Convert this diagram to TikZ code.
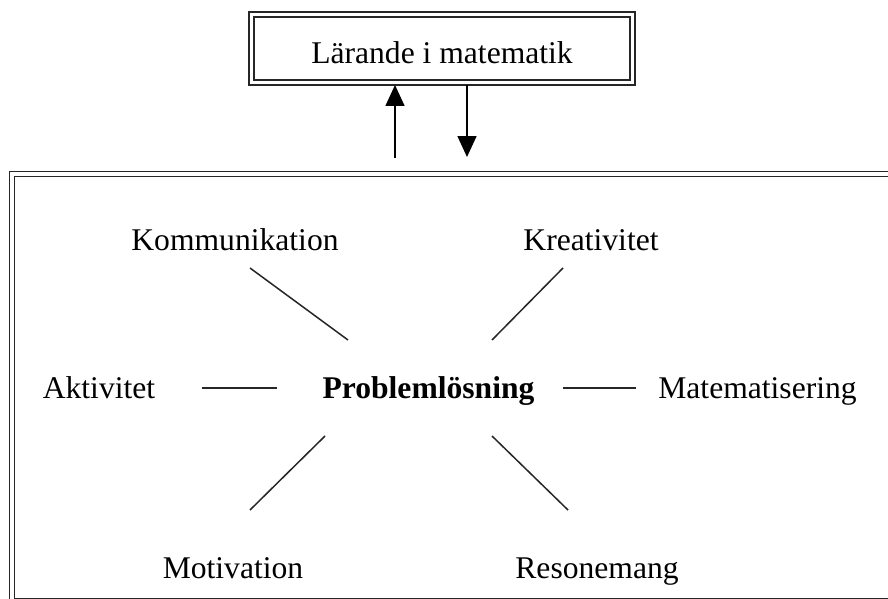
\documentclass[tikz,border=0pt]{standalone}
\usepackage{fontspec}
\setmainfont{Liberation Serif}
\usetikzlibrary{arrows.meta}
\tikzset{
  lbl/.style={anchor=base, inner sep=0pt, font=\fontsize{31.6}{36}\selectfont},
  spoke/.style={line width=1.5pt, black!85},
  arr/.style={line width=1.6pt, -{Triangle[length=21pt,width=19pt]}},
  dbl/.style={draw=black!85, line width=1.8pt, double=white, double distance=3.2pt}
}
\begin{document}
\begin{tikzpicture}[x=1pt,y=-1pt]
\useasboundingbox (0,0) rectangle (888,599);
\clip (0,0) rectangle (888,599);
\fill[white] (0,0) rectangle (888,599);
% top box
\node[dbl, minimum width=381pt, minimum height=68pt, inner sep=0pt,
      text height=29.5pt, text depth=0pt,
      font=\fontsize{31.6}{36}\selectfont] (top) at (442,48.5) {Lärande i matematik};
% big frame
\draw[dbl] (12,174) rectangle (903,601);
% arrows
\coordinate (u1) at (395,158);
\coordinate (u2) at (395,85);
\coordinate (d1) at (467,85);
\coordinate (d2) at (467,157);
\draw[arr] (u1) -- (u2);
\draw[arr] (d1) -- (d2);
% labels
\node[lbl, font=\fontsize{31.6}{36}\selectfont\bfseries] (p) at (428.5,398) {Problemlösning};
\node[lbl] (akt) at (99,398) {Aktivitet};
\node[lbl] (mat) at (757.5,398) {Matematisering};
\node[lbl] (kom) at (235,250) {Kommunikation};
\node[lbl] (kre) at (591,250) {Kreativitet};
\node[lbl] (mot) at (233,578) {Motivation};
\node[lbl] (res) at (597,578) {Resonemang};
% spokes
\coordinate (a1) at (202,388); \coordinate (a2) at (277,388);
\coordinate (m1) at (563,388); \coordinate (m2) at (636,388);
\coordinate (k1) at (250,268); \coordinate (k2) at (348,340);
\coordinate (r1) at (563,268); \coordinate (r2) at (492,340);
\coordinate (o1) at (325,436); \coordinate (o2) at (250,510);
\coordinate (s1) at (492,436); \coordinate (s2) at (568,510);
\draw[spoke] (a1) -- (a2);
\draw[spoke] (m1) -- (m2);
\draw[spoke] (k1) -- (k2);
\draw[spoke] (r1) -- (r2);
\draw[spoke] (o1) -- (o2);
\draw[spoke] (s1) -- (s2);
\end{tikzpicture}
\end{document}
